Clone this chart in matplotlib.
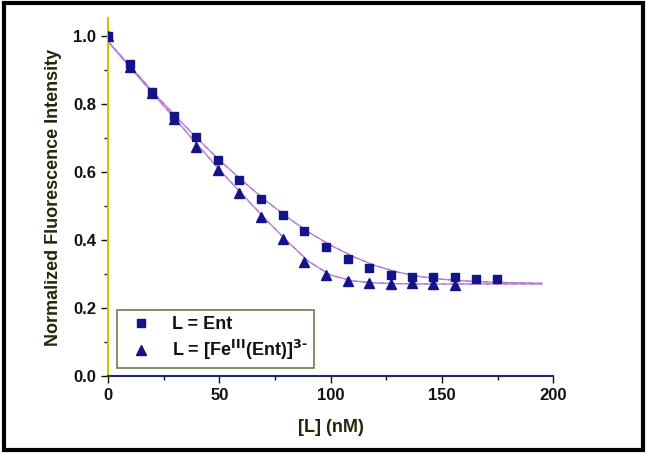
import numpy as np
import matplotlib.pyplot as plt
from matplotlib.patches import Rectangle

plt.rcParams['font.family'] = ['Liberation Sans', 'DejaVu Sans']
plt.rcParams['font.weight'] = 'bold'
plt.rcParams['mathtext.default'] = 'bf'

# measured points
ent_x = [0, 9.9, 19.8, 29.6, 39.4, 49.2, 59.0, 68.8, 78.5, 88.2, 97.9, 107.6,
         117.3, 127.0, 136.6, 146.2, 155.8, 165.3, 174.8]
ent_y = [1.0, 0.919, 0.835, 0.767, 0.703, 0.636, 0.577, 0.522, 0.473, 0.426,
         0.381, 0.346, 0.318, 0.297, 0.291, 0.291, 0.292, 0.286, 0.286]

fe_x = [0, 9.9, 19.8, 29.6, 39.4, 49.2, 59.0, 68.8, 78.5, 88.2, 97.9, 107.6,
        117.3, 127.0, 136.6, 146.2, 155.8]
fe_y = [1.0, 0.909, 0.832, 0.758, 0.675, 0.607, 0.538, 0.467, 0.403, 0.337,
        0.296, 0.279, 0.273, 0.271, 0.273, 0.271, 0.268]

# fitted curves
fit_ent_x = [0, 10, 20, 30, 40, 50, 60, 70, 80, 90, 100, 110, 120, 130, 140,
             150, 160, 170, 180, 195]
fit_ent_y = [0.985, 0.912, 0.838, 0.767, 0.700, 0.636, 0.577, 0.521, 0.470,
             0.424, 0.385, 0.352, 0.325, 0.306, 0.293, 0.285, 0.280, 0.277,
             0.275, 0.273]
fit_fe_x = [0, 10, 20, 30, 40, 50, 60, 70, 80, 90, 100, 110, 120, 130, 140,
            150, 160, 195]
fit_fe_y = [0.985, 0.908, 0.833, 0.758, 0.682, 0.608, 0.537, 0.467, 0.400,
            0.338, 0.297, 0.280, 0.274, 0.272, 0.271, 0.271, 0.271, 0.271]

navy = '#14148a'

fig = plt.figure(figsize=(6.47, 4.55), dpi=100)
ax = fig.add_axes([0.167, 0.1736, 0.688, 0.786])

for fx, fy in [(fit_ent_x, fit_ent_y), (fit_fe_x, fit_fe_y)]:
    ax.plot(fx, fy, color='#9a8ee0', lw=1.0, zorder=2)
    ax.plot(fx, fy, color='#e060c0', lw=0.8, dashes=(4, 4), zorder=2)

ax.plot(ent_x, ent_y, 's', color=navy, ms=5.5, ls='none', label='L = Ent', zorder=3)
ax.plot(fe_x, fe_y, '^', color=navy, ms=6.5, ls='none',
        label=r'L = [Fe$^{III}$(Ent)]$^{3\text{-}}$', zorder=3)

ax.set_xlim(0, 200)
ax.set_ylim(0, 1.053)
ax.set_xticks([0, 50, 100, 150, 200])
ax.set_xticks([25, 75, 125, 175], minor=True)
ax.set_yticks([0, 0.2, 0.4, 0.6, 0.8, 1.0])
ax.set_yticks([0.1, 0.3, 0.5, 0.7, 0.9], minor=True)
ax.set_yticklabels(['0.0', '0.2', '0.4', '0.6', '0.8', '1.0'])
ax.tick_params(axis='both', which='major', length=5, width=1, labelsize=12,
               direction='out', colors='#111111')
ax.tick_params(axis='both', which='minor', length=3, width=1, direction='out',
               colors='#111111')

ax.spines['top'].set_visible(False)
ax.spines['right'].set_visible(False)
ax.spines['left'].set_color('#c8c800')
ax.spines['left'].set_linewidth(1.5)
ax.spines['bottom'].set_color('#1a2a6a')
ax.spines['bottom'].set_linewidth(1.5)

ax.set_xlabel('[L] (nM)', fontsize=13, fontweight='bold', color='#1c2a08', labelpad=12)
ax.set_ylabel('Normalized Fluorescence Intensity', fontsize=13, fontweight='bold',
              color='#1c2a08', labelpad=8)

leg = ax.legend(loc='lower left', bbox_to_anchor=(0.02, 0.022), fontsize=13,
                frameon=True, fancybox=False, borderpad=0.35, handletextpad=0.7,
                handlelength=2.0, labelspacing=0.25, borderaxespad=0)
leg.get_frame().set_edgecolor('#4a5a20')
leg.get_frame().set_linewidth(1.2)
for t in leg.get_texts():
    t.set_fontweight('bold')
    t.set_color('#111111')

fig.patches.append(Rectangle((0.006, 0.01), 0.988, 0.983, transform=fig.transFigure,
                             fill=False, edgecolor='black', lw=3))

fig.savefig('out.png', dpi=100)
